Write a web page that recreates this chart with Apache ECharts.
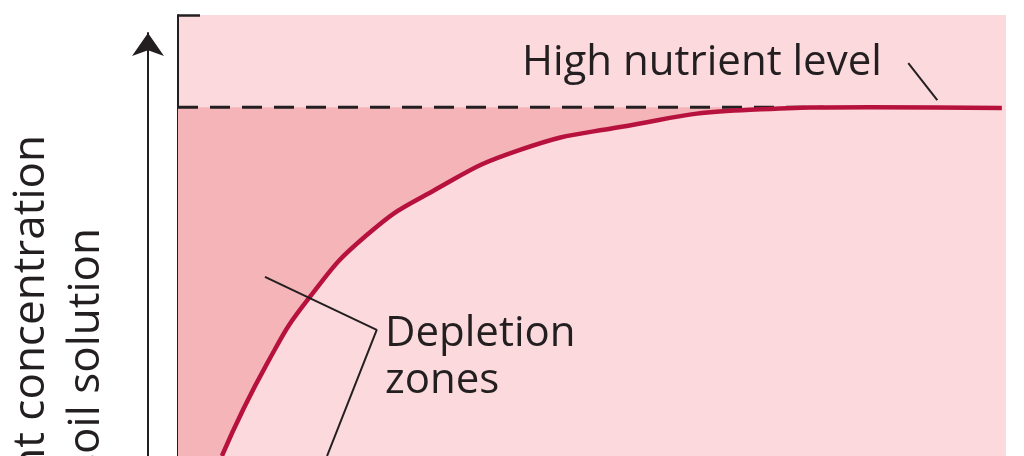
<!DOCTYPE html>
<html>
<head>
<meta charset="utf-8">
<style>
html,body{margin:0;padding:0;background:#ffffff;}
#chart{width:1024px;height:456px;}
</style>
<script src="https://cdn.jsdelivr.net/npm/echarts@6/dist/echarts.min.js"></script>
</head>
<body>
<div id="chart"></div>
<script>
// Distance from root (x) and nutrient concentration (y), arbitrary units 0-100
var curveX = [5.3, 10.8, 15.9, 22.8, 30.8, 41.3, 53.4, 69.1, 83.6, 99.5];
var curveY = [0, 21.1, 36.0, 50.1, 60.1, 69.4, 74.6, 78.5, 79.1, 78.9];
var highLevel = 79.1;
var levelX = [0, 78];
var depletionLeaderX = [10.5, 24.0, 18.0];
var depletionLeaderY = [40.6, 28.6, 0];
var highLeaderX = [88.2, 91.7];
var highLeaderY = [89.1, 80.7];
var yTitleLines = ['Nutrient concentration', 'in soil solution'];
var highLabel = 'High nutrient level';
var depletionLabel = ['Depletion', 'zones'];

function zip(xs, ys) { return xs.map(function (x, i) { return [x, ys[i]]; }); }

var INK = '#231f20';
var LIGHT = '#fbd9dc';
var DARK = '#f5b4b8';
var CURVE = '#b7123d';
var FONT = '"Open Sans", "Noto Sans", sans-serif';

var chart = echarts.init(document.getElementById('chart'), null, {renderer: 'canvas'});
chart.setOption({
  animation: false,
  backgroundColor: '#ffffff',
  grid: [
    {left: 178, right: 18, top: 15, bottom: 0, show: true, backgroundColor: LIGHT, borderWidth: 0},
    {left: 148, width: 1, top: 33, bottom: 0, show: false}
  ],
  xAxis: [
    {type: 'value', gridIndex: 0, min: 0, max: 100, show: false},
    {type: 'value', gridIndex: 1, min: 0, max: 1, show: false}
  ],
  yAxis: [
    {type: 'value', gridIndex: 0, min: 0, max: 100, splitLine: {show: false},
     axisLabel: {show: false},
     axisLine: {show: true, lineStyle: {color: INK, width: 2}},
     axisTick: {show: true, inside: true, length: 22, customValues: [100], lineStyle: {color: INK, width: 2.5}}},
    {type: 'value', gridIndex: 1, min: 0, max: 1, splitLine: {show: false},
     axisLabel: {show: false}, axisTick: {show: false},
     axisLine: {show: true, symbol: ['none', 'arrow'], symbolSize: [24, 23], lineStyle: {color: INK, width: 2}}}
  ],
  series: [
    {type: 'line', name: 'depleted', z: 1, data: zip(levelX, [highLevel, highLevel]), symbol: 'none',
     lineStyle: {width: 0}, areaStyle: {color: DARK, opacity: 1}, silent: true},
    {type: 'line', name: 'curveFill', z: 2, data: zip(curveX, curveY), smooth: 0.5, symbol: 'none',
     lineStyle: {width: 0}, areaStyle: {color: LIGHT, opacity: 1}, silent: true},
    {type: 'line', name: 'level', z: 3, data: zip(levelX, [highLevel, highLevel]), symbol: 'none',
     lineStyle: {color: INK, width: 3, type: [20, 12]}, silent: true},
    {type: 'line', name: 'curve', z: 4, data: zip(curveX, curveY), smooth: 0.5, symbol: 'none',
     lineStyle: {color: CURVE, width: 4.5, cap: 'butt'}, silent: true},
    {type: 'line', name: 'depletionLeader', z: 5, data: zip(depletionLeaderX, depletionLeaderY), symbol: 'none',
     lineStyle: {color: INK, width: 2}, silent: true},
    {type: 'line', name: 'highLeader', z: 5, data: zip(highLeaderX, highLeaderY), symbol: 'none',
     lineStyle: {color: INK, width: 2}, silent: true}
  ],
  graphic: [
    {type: 'text', x: 522, y: 63, z: 10, style: {text: highLabel, font: '42px ' + FONT, fill: INK, align: 'left', verticalAlign: 'middle'}},
    {type: 'text', x: 385, y: 334, z: 10, style: {text: depletionLabel[0], font: '42px ' + FONT, fill: INK, align: 'left', verticalAlign: 'middle'}},
    {type: 'text', x: 385, y: 381, z: 10, style: {text: depletionLabel[1], font: '42px ' + FONT, fill: INK, align: 'left', verticalAlign: 'middle'}},
    {type: 'text', x: 31, y: 135, rotation: Math.PI / 2, z: 10, style: {text: yTitleLines[0], font: '44px ' + FONT, fill: INK, align: 'right', verticalAlign: 'middle'}},
    {type: 'text', x: 86, y: 228, rotation: Math.PI / 2, z: 10, style: {text: yTitleLines[1], font: '44px ' + FONT, fill: INK, align: 'right', verticalAlign: 'middle'}}
  ]
});
</script>
</body>
</html>
